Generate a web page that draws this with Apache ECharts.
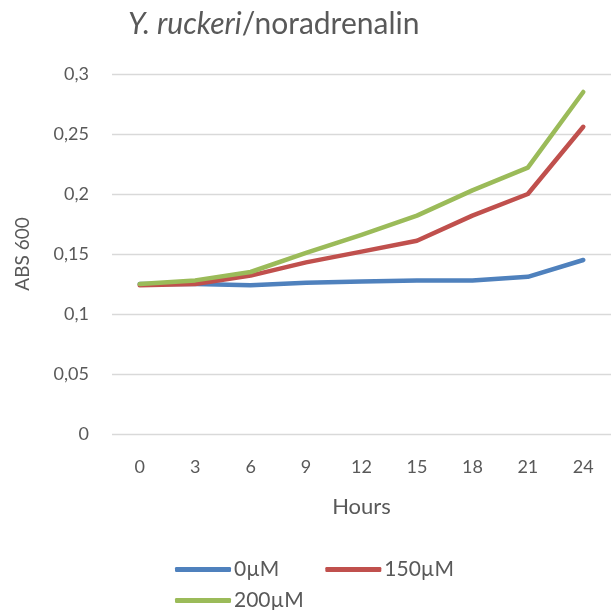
<!DOCTYPE html>
<html>
<head>
<meta charset="utf-8">
<script src="https://cdn.jsdelivr.net/npm/echarts@6/dist/echarts.min.js"></script>
<style>
  html, body { margin: 0; padding: 0; background: #fff; }
  #chart { width: 611px; height: 610px; }
</style>
</head>
<body>
<div id="chart"></div>
<script>
// Growth of Y. ruckeri under noradrenalin, absorbance at 600 nm
const hours = ['0', '3', '6', '9', '12', '15', '18', '21', '24'];
const abs0uM   = [0.125, 0.125, 0.124, 0.126, 0.127, 0.128, 0.128, 0.131, 0.145];
const abs150uM = [0.124, 0.125, 0.132, 0.143, 0.152, 0.161, 0.182, 0.200, 0.256];
const abs200uM = [0.125, 0.128, 0.135, 0.151, 0.166, 0.182, 0.203, 0.222, 0.285];

const textColor = '#595959';
const font = 'Lato, "Open Sans", sans-serif';

const chart = echarts.init(document.getElementById('chart'), null, { renderer: 'canvas' });

function line(name, data, color) {
  return {
    name: name,
    type: 'line',
    data: data,
    showSymbol: false,
    symbol: 'none',
    lineStyle: { color: color, width: 4.5, cap: 'round', join: 'round' },
    itemStyle: { color: color },
    animation: false
  };
}

const legendBase = {
  left: 170,
  itemWidth: 56,
  itemHeight: 5,
  itemGap: 46,
  icon: 'roundRect',
  textStyle: { fontSize: 21, color: textColor, fontFamily: font, padding: [0, 0, 0, -2] }
};

chart.setOption({
  animation: false,
  textStyle: { fontFamily: font, color: textColor },
  title: {
    text: '{i|Y. ruckeri}{n|/noradrenalin}',
    left: 123,
    top: 4,
    textStyle: {
      rich: {
        i: { fontFamily: font, fontStyle: 'italic', fontWeight: 'normal', fontSize: 30, color: textColor },
        n: { fontFamily: font, fontWeight: 'normal', fontSize: 30, color: textColor }
      }
    }
  },
  grid: { left: 112, top: 74, width: 508, height: 360, containLabel: false },
  xAxis: {
    type: 'category',
    data: hours,
    boundaryGap: true,
    name: 'Hours',
    nameLocation: 'middle',
    nameGap: 62,
    nameTextStyle: { fontSize: 22, color: textColor, fontFamily: font },
    axisLine: { show: false },
    axisTick: { show: false },
    axisLabel: { fontSize: 18, color: textColor, margin: 24, fontFamily: font }
  },
  yAxis: {
    type: 'value',
    min: 0,
    max: 0.3,
    interval: 0.05,
    name: 'ABS 600',
    nameLocation: 'middle',
    nameGap: 80,
    nameTextStyle: { fontSize: 19, color: textColor, fontFamily: font },
    axisLine: { show: false },
    axisTick: { show: false },
    splitLine: { lineStyle: { color: '#d9d9d9', width: 1.3 } },
    axisLabel: {
      fontSize: 18,
      color: textColor,
      margin: 23,
      fontFamily: font,
      formatter: v => String(Math.round(v * 100) / 100).replace('.', ',')
    }
  },
  legend: [
    Object.assign({}, legendBase, { top: 554, data: ['0µM', '150µM'] }),
    Object.assign({}, legendBase, { top: 585, data: ['200µM'] })
  ],
  series: [
    line('0µM', abs0uM, '#4F81BD'),
    line('150µM', abs150uM, '#C0504D'),
    line('200µM', abs200uM, '#9BBB59')
  ]
});
</script>
</body>
</html>
